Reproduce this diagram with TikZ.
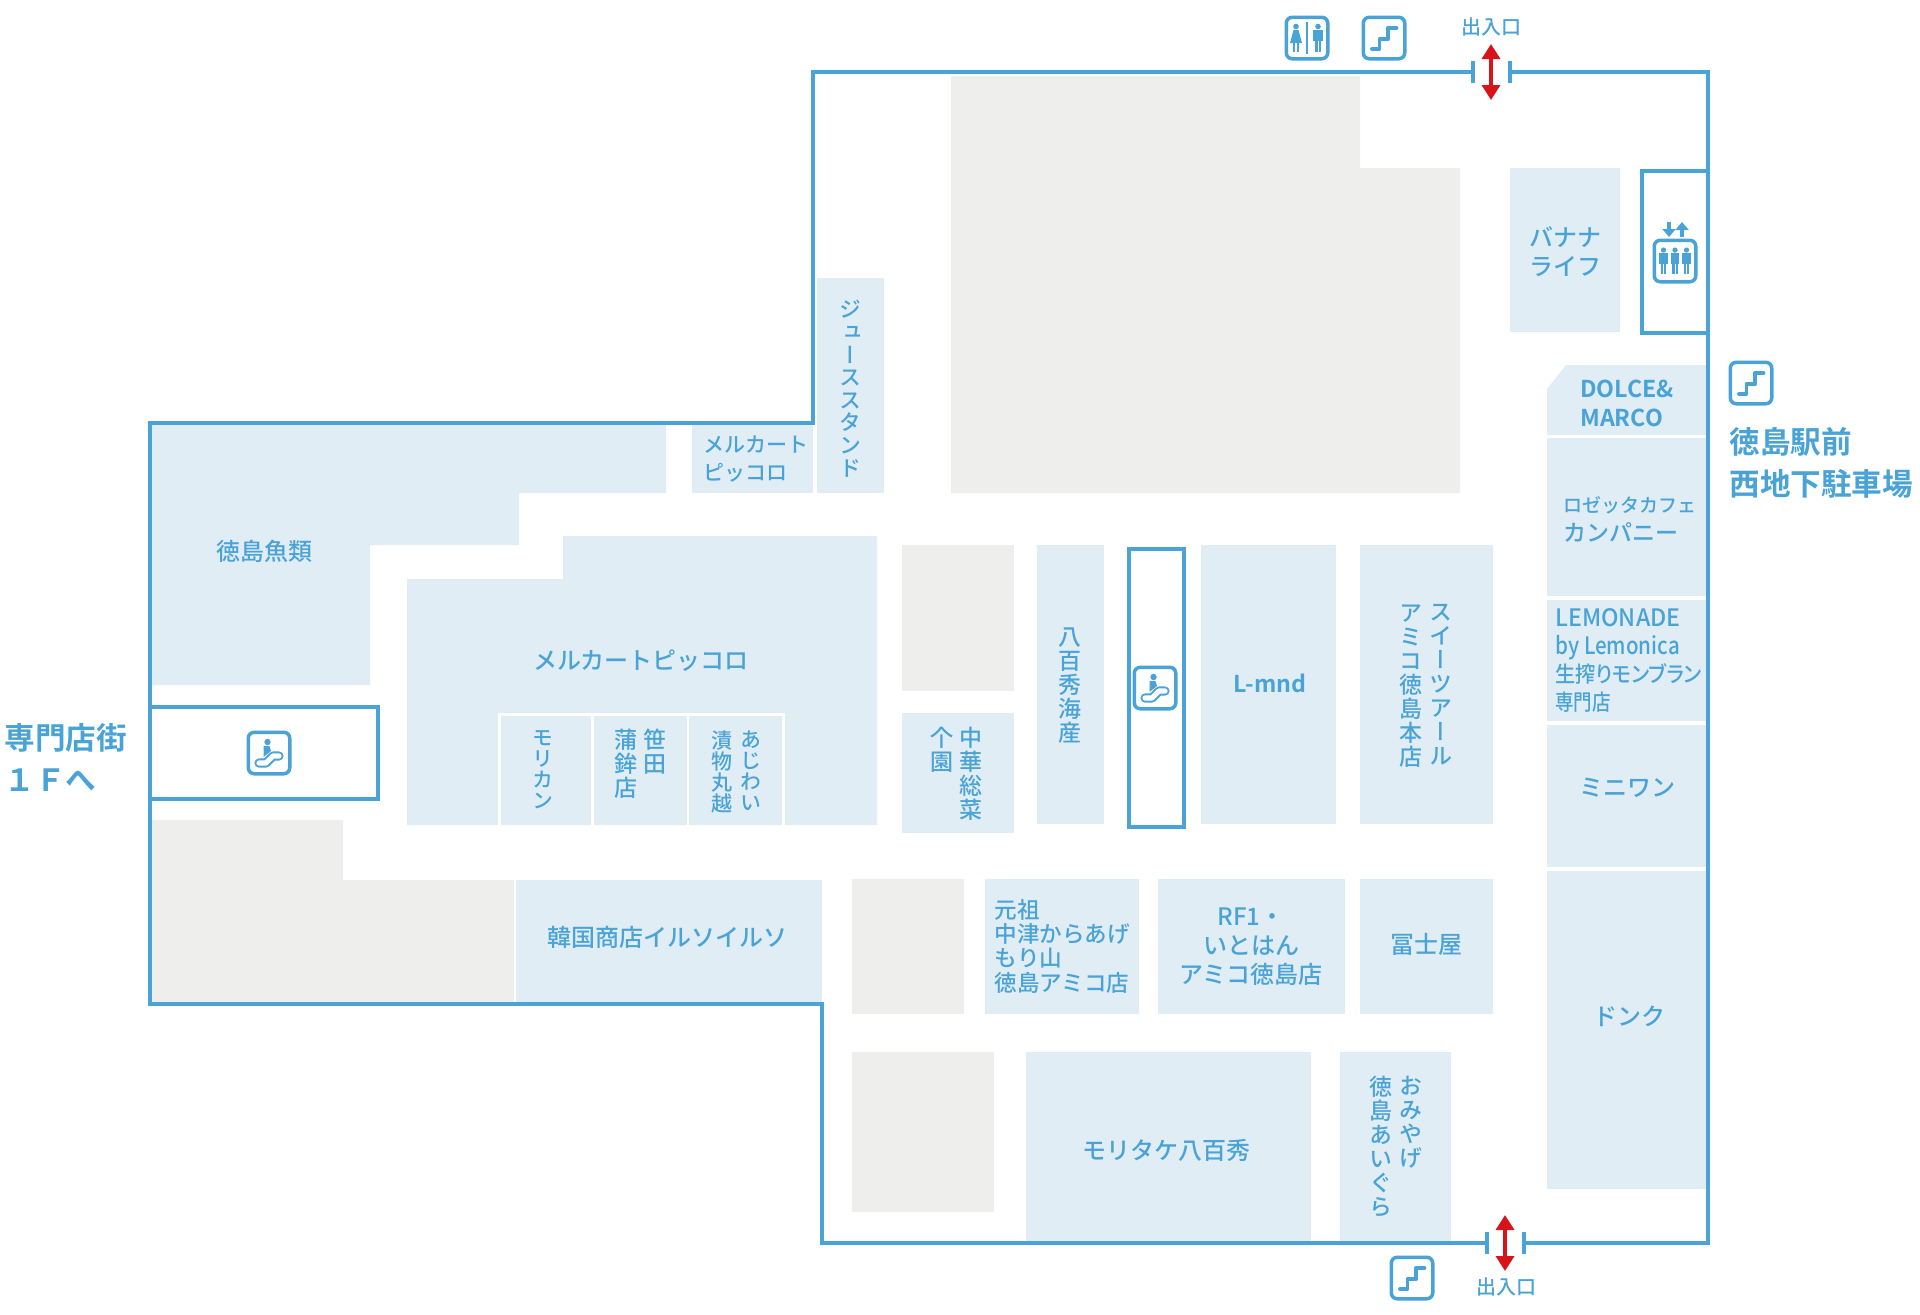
\documentclass[tikz,border=0pt]{standalone}
\usepackage{fontspec}
\usetikzlibrary{arrows.meta}
\newfontfamily\jpfont{Noto Sans CJK JP Medium}
\newfontfamily\jpvert[RawFeature=+vert]{Noto Sans CJK JP Medium}
\newfontfamily\jpnarrow[FakeStretch=0.84,RawFeature=+palt]{Noto Sans CJK JP Medium}
\newfontfamily\jpheavy{Noto Sans CJK JP Bold}
\definecolor{wallblue}{HTML}{4AA3D6}
\definecolor{shopblue}{HTML}{E1EDF5}
\definecolor{backgrey}{HTML}{EEEEEC}
\definecolor{doorred}{HTML}{D7141A}
\tikzset{
	wall/.style={draw=wallblue, line width=1.75pt, miter limit=10},
	shop/.style={fill=shopblue},
	backroom/.style={fill=backgrey},
	lbl/.style={text=wallblue, inner sep=0pt, align=center, font=\jpfont\fontsize{12}{14.5}\selectfont},
	boldlbl/.style={lbl, font=\jpheavy\fontsize{11.6}{14.5}\selectfont},
	smalllbl/.style={lbl, font=\jpfont\fontsize{10.5}{14}\selectfont},
	vlbl/.style={lbl, anchor=north, font=\jpvert\fontsize{11.5}{12}\selectfont},
	smallvlbl/.style={lbl, anchor=north, font=\jpvert\fontsize{10.5}{10.5}\selectfont},
	doorlbl/.style={lbl, font=\jpfont\fontsize{10}{12}\selectfont},
	sidelbl/.style={lbl, anchor=west, align=left, font=\jpheavy\fontsize{15.3}{21}\selectfont},
	doorarrow/.style={draw=doorred, line width=1.75pt, {Triangle[length=7.5pt,width=9pt]}-{Triangle[length=7.5pt,width=9pt]}},
	iconbox/.style={draw=wallblue, fill=white, line width=1.75pt, rounded corners=3pt, inner sep=0pt, minimum size=20.75pt},
	stairmark/.pic={
		\draw[wallblue, line width=1.9pt, line cap=round, line join=round] (-12,11) -- (-4.6,11) -- (-4.6,1) -- (4.2,1) -- (4.2,-10) -- (12.5,-10);
	},
	escalmark/.pic={
		\draw[wallblue, line width=4.6pt, line cap=round, line join=round] (-10,10) -- (-3,10) -- (4,3) -- (10,3);
		\draw[white, line width=2.6pt, line cap=round, line join=round] (-10,10) -- (-3,10) -- (4,3) -- (10,3);
		\fill[wallblue] (-1.5,-11) circle (3.2);
		\fill[wallblue] (-5.5,-7) -- (0.5,-7) -- (2,-2) -- (-5.5,4) -- cycle;
	},
	manmark/.pic={
		\fill[wallblue] (0,-11.5) circle (2.8);
		\fill[wallblue] (-4.7,-8) rectangle (4.7,3);
		\fill[wallblue] (-3,2) rectangle (-0.5,14);
		\fill[wallblue] (0.5,2) rectangle (3,14);
	},
	ladymark/.pic={
		\fill[wallblue] (0,-11.5) circle (2.8);
		\fill[wallblue] (-2.5,-8) -- (2.5,-8) -- (6,5) -- (-6,5) -- cycle;
		\fill[wallblue] (-3,4) rectangle (-0.7,14);
		\fill[wallblue] (0.7,4) rectangle (3,14);
	},
}

\begin{document}
\begin{tikzpicture}[x=0.5pt, y=-0.5pt]
	\useasboundingbox (0,0) rectangle (1920,1314);

	% back rooms
	\fill[backroom] (951,76) -- (1360,76) -- (1360,168) -- (1460,168) -- (1460,493) -- (951,493) -- cycle;
	\fill[backroom] (902,545) rectangle (1014,691);
	\fill[backroom] (152,820) -- (343,820) -- (343,880) -- (514,880) -- (514,1004) -- (152,1004) -- cycle;
	\fill[backroom] (852,879) rectangle (964,1014);
	\fill[backroom] (852,1052) rectangle (994,1212);

	% shops
	\fill[shop] (150,423) -- (666,423) -- (666,493) -- (519,493) -- (519,545) -- (370,545) -- (370,685) -- (150,685) -- cycle;
	\fill[shop] (692,423) rectangle (813,493);
	\fill[shop] (817,278) rectangle (884,493);
	\fill[shop] (1510,168) rectangle (1620,332);
	\fill[shop] (1547,389) -- (1566,365) -- (1708,365) -- (1708,435) -- (1547,435) -- cycle;
	\fill[shop] (1547,438) rectangle (1708,596);
	\fill[shop] (1547,600) rectangle (1708,721);
	\fill[shop] (1547,725) rectangle (1708,867);
	\fill[shop] (1547,871) rectangle (1708,1189);
	\fill[shop] (1360,545) rectangle (1493,824);
	\fill[shop] (1201,545) rectangle (1336,824);
	\fill[shop] (1037,545) rectangle (1104,824);
	\fill[shop] (902,713) rectangle (1014,833);
	\fill[shop] (407,579) -- (563,579) -- (563,536) -- (877,536) -- (877,825) -- (407,825) -- cycle;
	\fill[white] (498,713) rectangle (785,825);
	\fill[shop] (501,716) rectangle (591,825);
	\fill[shop] (594,716) rectangle (687,825);
	\fill[shop] (689,716) rectangle (782,825);
	\fill[shop] (516,880) rectangle (822,1004);
	\fill[shop] (985,879) rectangle (1139,1014);
	\fill[shop] (1158,879) rectangle (1345,1014);
	\fill[shop] (1360,879) rectangle (1493,1014);
	\fill[shop] (1026,1052) rectangle (1311,1243);
	\fill[shop] (1340,1052) rectangle (1451,1243);

	% walls
	\draw[wall] (1473,72) -- (813,72) -- (813,423) -- (150,423) -- (150,1004) -- (822,1004) -- (822,1243) -- (1487,1243);
	\draw[wall] (1524,1243) -- (1708,1243) -- (1708,72) -- (1510,72);
	\draw[wall] (1473,61) -- (1473,83);
	\draw[wall] (1510,61) -- (1510,83);
	\draw[wall] (1487,1232) -- (1487,1254);
	\draw[wall] (1524,1232) -- (1524,1254);
	\draw[wall, fill=white] (1642,171) rectangle (1708,333);
	\draw[wall, fill=white] (150,707) rectangle (378,799);
	\draw[wall, fill=white] (1129,549) rectangle (1184,827);

	% doors
	\coordinate (topout) at (1491,44);
	\coordinate (topin) at (1491,100);
	\coordinate (botin) at (1505,1215);
	\coordinate (botout) at (1505,1271);
	\draw[doorarrow] (topout) -- (topin);
	\draw[doorarrow] (botin) -- (botout);
	\node[doorlbl] (toplbl) at (1491,27) {出入口};
	\node[doorlbl] (botlbl) at (1506,1287) {出入口};

	% icons
	\node[iconbox] (toilet) at (1307,38) {};
	\pic[xshift=-5.5pt] at (toilet) {ladymark};
	\pic[xshift=5.5pt] at (toilet) {manmark};
	\draw[wallblue, line width=1.2pt] (1307,22) -- (1307,54);
	\node[iconbox] (stairtop) at (1384,38) {};
	\pic at (stairtop) {stairmark};
	\node[iconbox] (stairside) at (1751,383) {};
	\pic at (stairside) {stairmark};
	\node[iconbox] (stairbot) at (1412,1278) {};
	\pic at (stairbot) {stairmark};
	\node[iconbox] (escleft) at (269,753) {};
	\pic at (escleft) {escalmark};
	\node[iconbox] (escmid) at (1155,688) {};
	\pic at (escmid) {escalmark};
	\node[iconbox] (lift) at (1675,261) {};
	\pic[xshift=-5.75pt, scale=0.95] at (lift) {manmark};
	\pic[scale=0.95] at (lift) {manmark};
	\pic[xshift=5.75pt, scale=0.95] at (lift) {manmark};
	\coordinate (lifta) at (1669,222);
	\coordinate (liftb) at (1669,237);
	\coordinate (liftc) at (1682,237);
	\coordinate (liftd) at (1682,222);
	\draw[wallblue, line width=1.6pt, -{Triangle[length=4pt,width=6.5pt]}] (lifta) -- (liftb);
	\draw[wallblue, line width=1.6pt, -{Triangle[length=4pt,width=6.5pt]}] (liftc) -- (liftd);

	% shop names
	\node[lbl] (uorui) at (264,551) {徳島魚類};
	\node[lbl] (picbig) at (641,661) {メルカートピッコロ};
	\node[smalllbl, align=left] (picsmall) at (756,459) {メルカート\\ピッコロ};
	\node[lbl, anchor=north, font=\jpvert\fontsize{11}{11.3}\selectfont] (juice) at (850,300) {ジ\\ュ\\ー\\ス\\ス\\タ\\ン\\ド};
	\node[lbl] (banana) at (1565,252) {バナナ\\ライフ};
	\node[boldlbl, align=left] (dolce) at (1627,403) {DOLCE\&\\MARCO};
	\node[lbl, anchor=west, align=left, font=\jpfont\fontsize{9.5}{14}\selectfont] (rosetta) at (1563,519) {ロゼッタカフェ\\[0.5pt]{\fontsize{11.5}{14}\selectfont カンパニー}};
	\node[lbl, anchor=west, align=left, font=\jpnarrow\fontsize{11}{14}\selectfont] (lemon) at (1555,660) {\scalebox{1.15}[1]{\fontsize{12}{14}\selectfont LEMONADE}\\\scalebox{1.02}[1]{\fontsize{12}{14}\selectfont by Lemonica}\\\scalebox{1.09}[1]{生搾りモンブラン}\\専門店};
	\node[lbl] (miniwan) at (1627,788) {ミニワン};
	\node[lbl] (donq) at (1629,1016) {ドンク};
	\node[vlbl] (sweets) at (1441,604) {ス\\イ\\ー\\ツ\\ア\\ー\\ル};
	\node[vlbl] (amiko) at (1411,604) {ア\\ミ\\コ\\徳\\島\\本\\店};
	\node[boldlbl] (lmnd) at (1270,683) {L-mnd};
	\node[vlbl] (yaosea) at (1070,627) {八\\百\\秀\\海\\産};
	\node[vlbl] (chuka) at (971,727) {中\\華\\総\\菜};
	\node[vlbl] (koen) at (942,727) {个\\園};
	\node[smallvlbl] (morikan) at (543,730) {モ\\リ\\カ\\ン};
	\node[vlbl] (sasada) at (655,729) {笹\\田};
	\node[vlbl] (kamaboko) at (626,729) {蒲\\鉾\\店};
	\node[smallvlbl] (ajiwai) at (751,730) {あ\\じ\\わ\\い};
	\node[smallvlbl] (tsukemono) at (722,730) {漬\\物\\丸\\越};
	\node[lbl] (korean) at (667,937) {韓国商店イルソイルソ};
	\node[lbl, anchor=west, align=left, font=\jpfont\fontsize{11.3}{12.2}\selectfont] (karaage) at (994,946) {元祖\\中津からあげ\\もり山\\徳島アミコ店};
	\node[lbl] (rfone) at (1251,947) {RF1・\\いとはん\\アミコ徳島店};
	\node[lbl] (fujiya) at (1426,944) {冨士屋};
	\node[lbl] (yaohide) at (1166,1150) {モリタケ八百秀};
	\node[vlbl] (omiyage) at (1411,1076) {お\\み\\や\\げ};
	\node[vlbl] (aigura) at (1381,1076) {徳\\島\\あ\\い\\ぐ\\ら};

	% destinations
	\node[sidelbl] (parking) at (1729,463) {徳島駅前\\西地下駐車場};
	\node[sidelbl] (upstairs) at (4,757) {専門店街\\１Ｆへ};
\end{tikzpicture}
\end{document}
